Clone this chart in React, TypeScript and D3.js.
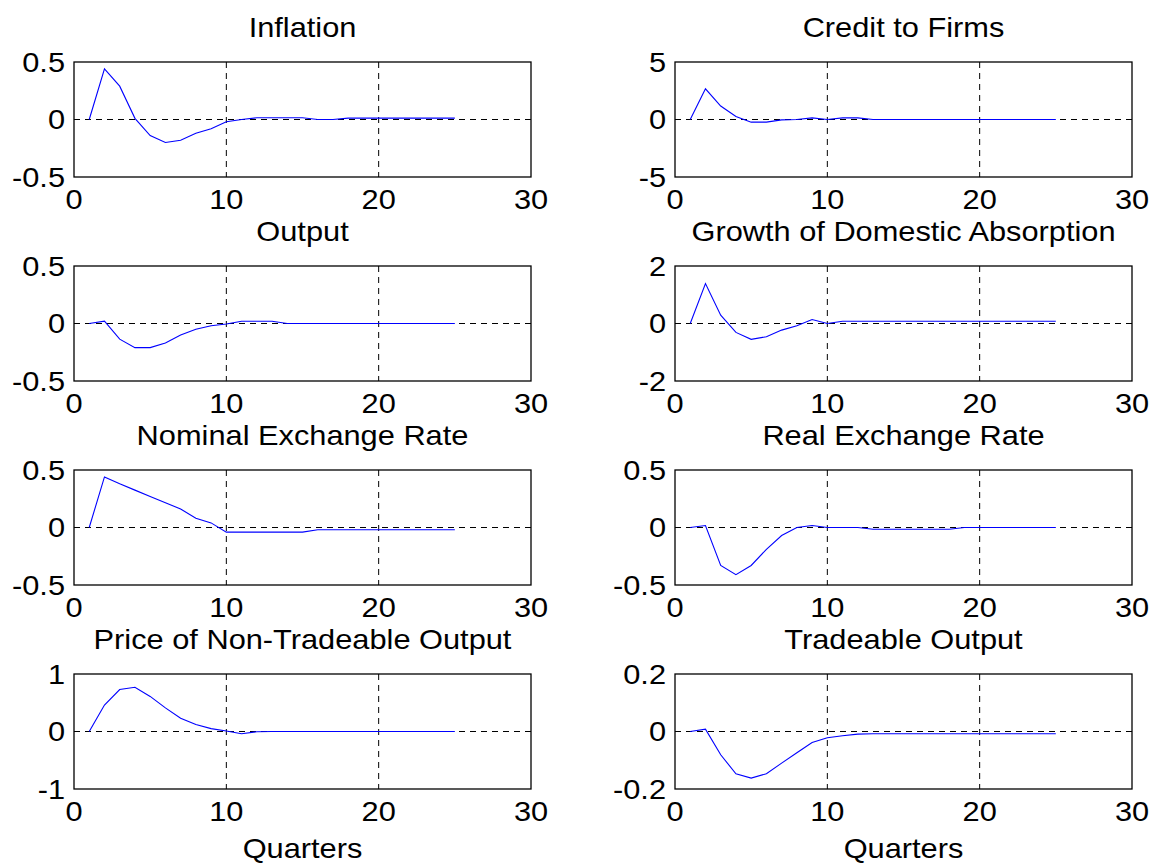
import React from 'react';
import * as d3 from 'd3';

// quarters 1..25
const quarters = d3.range(1, 26);

const inflation = [0, 0.44, 0.29, 0.01, -0.14, -0.2, -0.18, -0.12, -0.08, -0.02, 0, 0.015, 0.015, 0.015, 0.015, 0, 0, 0.012, 0.012, 0.012, 0.012, 0.012, 0.012, 0.012, 0.012];
const creditToFirms = [0, 2.67, 1.17, 0.26, -0.23, -0.23, -0.03, 0, 0.14, 0, 0.14, 0.14, 0, 0, 0, 0, 0, 0, 0, 0, 0, 0, 0, 0, 0];
const output = [0, 0.02, -0.136, -0.21, -0.21, -0.17, -0.1, -0.05, -0.02, -0.005, 0.02, 0.02, 0.02, 0, 0, 0, 0, 0, 0, 0, 0, 0, 0, 0, 0];
const domAbsorption = [0, 1.39, 0.29, -0.31, -0.55, -0.46, -0.23, -0.08, 0.14, 0, 0.08, 0.08, 0.08, 0.08, 0.08, 0.08, 0.08, 0.08, 0.08, 0.08, 0.08, 0.08, 0.08, 0.08, 0.08];
const nominalER = [0, 0.44, 0.38, 0.325, 0.27, 0.215, 0.16, 0.08, 0.04, -0.04, -0.04, -0.04, -0.04, -0.04, -0.04, -0.02, -0.02, -0.02, -0.02, -0.02, -0.02, -0.02, -0.02, -0.02, -0.02];
const realER = [0, 0.017, -0.33, -0.41, -0.33, -0.19, -0.07, 0, 0.017, 0, 0, 0, -0.015, -0.015, -0.015, -0.015, -0.015, -0.015, 0, 0, 0, 0, 0, 0, 0];
const priceNonTradeable = [0, 0.46, 0.73, 0.77, 0.61, 0.41, 0.23, 0.12, 0.05, 0.01, -0.04, -0.005, 0, 0, 0, 0, 0, 0, 0, 0, 0, 0, 0, 0, 0];
const tradeableOutput = [0, 0.008, -0.081, -0.147, -0.162, -0.147, -0.11, -0.074, -0.038, -0.022, -0.015, -0.009, -0.008, -0.008, -0.008, -0.008, -0.008, -0.008, -0.008, -0.008, -0.008, -0.008, -0.008, -0.008, -0.008];

const titles = ['Inflation', 'Credit to Firms', 'Output', 'Growth of Domestic Absorption', 'Nominal Exchange Rate', 'Real Exchange Rate', 'Price of Non-Tradeable Output', 'Tradeable Output'];
const seriesList = [inflation, creditToFirms, output, domAbsorption, nominalER, realER, priceNonTradeable, tradeableOutput];
const yLimits = [0.5, 5, 0.5, 2, 0.5, 0.5, 1, 0.2];
const yTickLabels = [
  ['-0.5', '0', '0.5'], ['-5', '0', '5'], ['-0.5', '0', '0.5'], ['-2', '0', '2'],
  ['-0.5', '0', '0.5'], ['-0.5', '0', '0.5'], ['-1', '0', '1'], ['-0.2', '0', '0.2'],
];
const xTicks = [0, 10, 20, 30];

const colLeft = [74, 675];
const axWidth = 457;
const rowTop = [62, 266, 470, 674];
const axHeight = 115;
const font = 'Arial, "Liberation Sans", Helvetica, sans-serif';
const fs = 27;
const stretch = 1.14; // the exported figure's text is a bit wider than tall

function Label({ x, y, anchor, dy, children }: { x: number; y: number; anchor: string; dy?: string; children: React.ReactNode }) {
  return (
    <g transform={`translate(${x},${y}) scale(${stretch},1)`}>
      <text textAnchor={anchor} dy={dy} fontSize={fs} fontFamily={font} fill="#000">{children}</text>
    </g>
  );
}

function Panel({ idx }: { idx: number }) {
  const col = idx % 2;
  const row = Math.floor(idx / 2);
  const left = colLeft[col];
  const top = rowTop[row];
  const lim = yLimits[idx];
  const x = d3.scaleLinear().domain([0, 30]).range([left, left + axWidth]);
  const y = d3.scaleLinear().domain([-lim, lim]).range([top + axHeight, top]);
  const vals = seriesList[idx];
  const line = d3.line<number>().x((_, i) => x(quarters[i])).y(d => y(d));
  const yTicks = [-lim, 0, lim];
  return (
    <g>
      <Label x={x(15)} y={top - 25} anchor="middle">{titles[idx]}</Label>
      {/* grid */}
      {[10, 20].map(v => (
        <line key={v} x1={x(v)} x2={x(v)} y1={top} y2={top + axHeight} stroke="#000" strokeWidth={1} strokeDasharray="6,5" />
      ))}
      <line x1={left} x2={left + axWidth} y1={y(0)} y2={y(0)} stroke="#000" strokeWidth={1} strokeDasharray="6,5" />
      <path d={line(vals) || ''} fill="none" stroke="#0000ff" strokeWidth={1.1} />
      <rect x={left} y={top} width={axWidth} height={axHeight} fill="none" stroke="#000" strokeWidth={1.3} />
      {xTicks.map(v => (
        <Label key={v} x={x(v)} y={top + axHeight + 32} anchor="middle">{v}</Label>
      ))}
      {yTicks.map((v, i) => (
        <Label key={i} x={left - 9} y={y(v)} anchor="end" dy="0.36em">{yTickLabels[idx][i]}</Label>
      ))}
      {row === 3 && (
        <Label x={x(15)} y={top + axHeight + 69} anchor="middle">Quarters</Label>
      )}
    </g>
  );
}

export default function App() {
  return (
    <svg width={1152} height={864} style={{ position: 'absolute', left: 0, top: 0, background: '#fff' }}>
      <rect width={1152} height={864} fill="#fff" />
      {titles.map((_, i) => <Panel key={i} idx={i} />)}
    </svg>
  );
}
